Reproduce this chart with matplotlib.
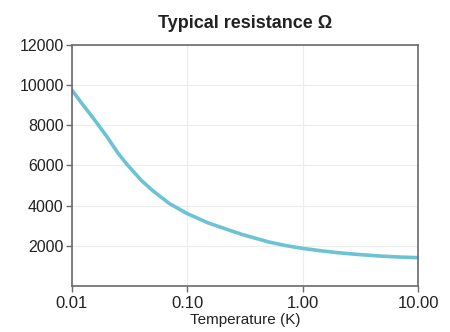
import matplotlib
matplotlib.use("Agg")
import matplotlib.pyplot as plt
from matplotlib.ticker import FixedLocator, FixedFormatter, NullLocator

# values
temperature = [0.01, 0.0125, 0.015, 0.0175, 0.02, 0.025, 0.03, 0.04, 0.05, 0.07,
               0.1, 0.15, 0.2, 0.3, 0.5, 0.7, 1.0, 1.5, 2.0, 3.0, 5.0, 7.0, 10.0]
resistance = [9750, 9000, 8420, 7900, 7450, 6620, 6050, 5250, 4750, 4100,
              3600, 3150, 2900, 2560, 2200, 2020, 1870, 1740, 1660, 1570, 1480, 1440, 1410]
x_ticks = [0.01, 0.1, 1.0, 10.0]
x_labels = ["0.01", "0.10", "1.00", "10.00"]
y_ticks = [2000, 4000, 6000, 8000, 10000, 12000]

plt.rcParams['font.family'] = ['Liberation Sans', 'DejaVu Sans']

fig = plt.figure(figsize=(4.5, 3.32), dpi=100)
ax = fig.add_axes([0.16, 0.1386, 0.769, 0.726])

ax.plot(temperature, resistance, color="#6cc3d3", lw=2.6, solid_joinstyle="round")

ax.set_xscale("log")
ax.set_xlim(0.01, 10)
ax.set_ylim(0, 12000)
ax.xaxis.set_major_locator(FixedLocator(x_ticks))
ax.xaxis.set_major_formatter(FixedFormatter(x_labels))
ax.xaxis.set_minor_locator(NullLocator())
ax.set_yticks(y_ticks)

ax.grid(True, color="#ececec", lw=0.8)
ax.set_axisbelow(True)
for s in ax.spines.values():
    s.set_color("#6a6a6a")
    s.set_linewidth(1.2)
ax.tick_params(direction="out", length=4, width=1, color="#6a6a6a",
               labelsize=12, labelcolor="#222222", pad=3)
ax.tick_params(axis="y", labelsize=11.5, pad=2)

ax.set_title("Typical resistance Ω", fontsize=13, fontweight="bold", pad=12, color="#222222")
ax.set_xlabel("Temperature (K)", fontsize=11, labelpad=2, color="#222222")

fig.savefig("out.png", dpi=100)
